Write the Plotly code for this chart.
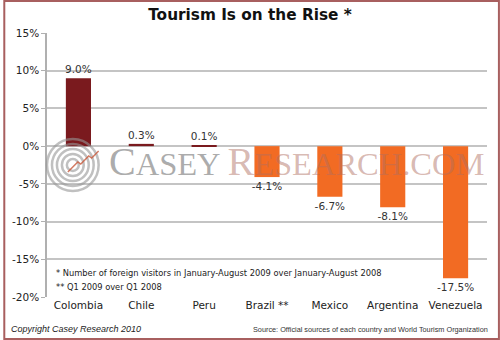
import plotly.graph_objects as go

countries = ["Colombia", "Chile", "Peru", "Brazil **", "Mexico", "Argentina", "Venezuela"]
values = [9.0, 0.3, 0.1, -4.1, -6.7, -8.1, -17.5]
labels = ["9.0%", "0.3%", "0.1%", "-4.1%", "-6.7%", "-8.1%", "-17.5%"]
tick_vals = [15, 10, 5, 0, -5, -10, -15, -20]
tick_text = ["15%", "10%", "5%", "0%", "-5%", "-10%", "-15%", "-20%"]

DARK = "#7a1a1e"
ORANGE = "#f26b23"
colors = [DARK if v > 0 else ORANGE for v in values]

W, H = 500, 340
ML, MR, MT, MB = 44, 13, 33, 43
PW, PH = W - ML - MR, H - MT - MB

def px(x):
    return (x - ML) / PW

def py(y):
    return 1 - (y - MT) / PH

fig = go.Figure()
fig.add_trace(go.Bar(
    x=countries, y=values, marker_color=colors, marker_line_width=0,
    text=labels, textposition="outside", cliponaxis=False, constraintext="none",
    textfont=dict(family="DejaVu Sans", size=10.5, color="#333333"),
    width=0.4,
))

shapes = []
# outer border
shapes.append(dict(type="rect", xref="paper", yref="paper",
                   x0=px(1), x1=px(W - 1), y0=py(H - 1), y1=py(1),
                   line=dict(color="#a85f5f", width=2), layer="below"))
# watermark logo circles
cx, cy = 70, 165
for r in [6, 11, 16, 21, 26]:
    shapes.append(dict(type="circle", xref="paper", yref="paper",
                       x0=px(cx - r), x1=px(cx + r), y0=py(cy + r), y1=py(cy - r),
                       line=dict(color="rgba(150,150,150,0.6)", width=2.5), layer="above"))
# zigzag
pts = [(65, 172), (75, 162), (78, 164), (86, 156), (89, 158), (96, 151)]
path = "M " + " L ".join(f"{px(x)},{py(y)}" for x, y in pts)
shapes.append(dict(type="path", xref="paper", yref="paper", path=path,
                   line=dict(color="rgba(200,90,60,0.8)", width=1.5), layer="above"))

PINK = "rgba(175,110,95,0.7)"
annotations = [
    dict(text=("<span style='font-size:40px'>C</span>ASEY "
               f"<span style='font-size:40px;color:{PINK}'>R</span>"
               f"<span style='color:{PINK}'>ESEARCH.COM</span>"),
         x=px(104), y=py(186), xref="paper", yref="paper", xanchor="left", yanchor="bottom",
         showarrow=False, font=dict(family="Liberation Serif", size=32.5, color="rgba(135,135,135,0.7)")),
    dict(text="* Number of foreign visitors in January-August 2009 over January-August 2008",
         x=px(51), y=py(273), xref="paper", yref="paper", xanchor="left", yanchor="middle",
         showarrow=False, font=dict(family="DejaVu Sans", size=8.3, color="#222222")),
    dict(text="** Q1 2009 over Q1 2008",
         x=px(51), y=py(287), xref="paper", yref="paper", xanchor="left", yanchor="middle",
         showarrow=False, font=dict(family="DejaVu Sans", size=8.3, color="#222222")),
    dict(text="<i>Copyright Casey Research 2010</i>",
         x=px(6), y=py(329), xref="paper", yref="paper", xanchor="left", yanchor="middle",
         showarrow=False, font=dict(family="Liberation Sans", size=9, color="#222222")),
    dict(text="Source: Official sources of each country and World Tourism Organization",
         x=px(490), y=py(329), xref="paper", yref="paper", xanchor="right", yanchor="middle",
         showarrow=False, font=dict(family="Liberation Sans", size=7.3, color="#333333")),
]

fig.update_layout(
    width=W, height=H,
    margin=dict(l=ML, r=MR, t=MT, b=MB),
    paper_bgcolor="white", plot_bgcolor="white",
    title=dict(text="<b>Tourism Is on the Rise *</b>", x=0.5, xanchor="center",
               y=1 - 15 / H, yanchor="middle",
               font=dict(family="DejaVu Sans", size=15.3, color="#111111")),
    showlegend=False,
    bargap=0.6,
    shapes=shapes,
    annotations=annotations,
    xaxis=dict(showgrid=False, zeroline=False, showline=False, ticks="",
               tickfont=dict(family="DejaVu Sans", size=10.5, color="#222222")),
    yaxis=dict(range=[-20, 15], tickvals=tick_vals, ticktext=tick_text,
               showgrid=True, gridcolor="#c4c4c4", gridwidth=1.5,
               zeroline=False, showline=True, linecolor="#b0b0b0", linewidth=1.5,
               ticks="outside", ticklen=4, tickcolor="#b0b0b0",
               tickfont=dict(family="DejaVu Sans", size=10.5, color="#222222")),
)

fig.write_html("out.html")
